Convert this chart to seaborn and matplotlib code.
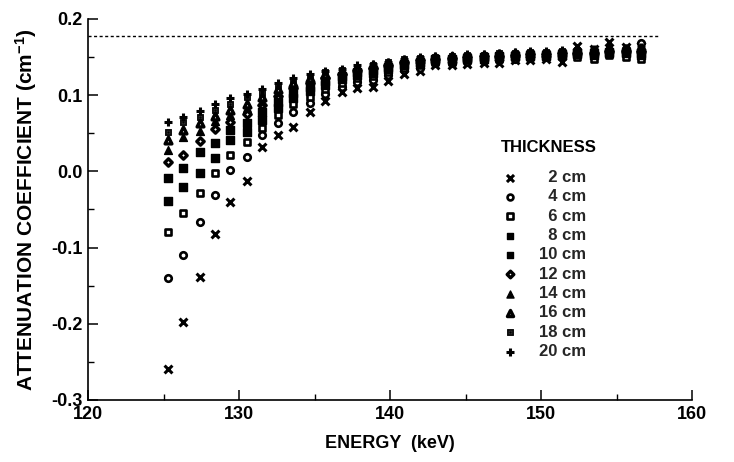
import matplotlib
matplotlib.use("Agg")
import matplotlib.pyplot as plt
import seaborn as sns
import pandas as pd
from matplotlib.path import Path
from matplotlib.markers import MarkerStyle
from matplotlib.ticker import MultipleLocator, FormatStrFormatter

# Photon energy of each measurement (keV)
energy = [125.3, 126.3, 127.4, 128.4, 129.4, 130.5, 131.5, 132.6, 133.6, 134.7,
          135.7, 136.8, 137.8, 138.9, 139.9, 140.9, 142.0, 143.0, 144.1, 145.1,
          146.2, 147.2, 148.3, 149.3, 150.3, 151.4, 152.4, 153.5, 154.5, 155.6,
          156.6]

# Measured attenuation coefficient (cm^-1) for each absorber thickness
mu_2cm = [-0.259, -0.198, -0.138, -0.082, -0.040, -0.012, 0.032, 0.048, 0.058, 0.078,
          0.093, 0.104, 0.110, 0.111, 0.118, 0.128, 0.132, 0.140, 0.139, 0.141,
          0.142, 0.142, 0.146, 0.146, 0.147, 0.143, 0.165, 0.160, 0.170, 0.163, 0.165]
mu_4cm = [-0.140, -0.110, -0.067, -0.031, 0.002, 0.019, 0.048, 0.064, 0.078, 0.090,
          0.102, 0.111, 0.117, 0.120, 0.126, 0.133, 0.136, 0.142, 0.142, 0.144,
          0.145, 0.146, 0.148, 0.149, 0.150, 0.150, 0.152, 0.152, 0.158, 0.160, 0.168]
mu_6cm = [-0.079, -0.055, -0.028, -0.002, 0.022, 0.039, 0.057, 0.074, 0.088, 0.098,
          0.108, 0.116, 0.122, 0.125, 0.130, 0.136, 0.139, 0.144, 0.144, 0.146,
          0.147, 0.148, 0.150, 0.150, 0.151, 0.151, 0.150, 0.148, 0.153, 0.150, 0.147]
mu_8cm = [-0.039, -0.020, -0.002, 0.018, 0.041, 0.052, 0.068, 0.083, 0.096, 0.105,
          0.114, 0.121, 0.126, 0.129, 0.134, 0.139, 0.142, 0.146, 0.146, 0.148,
          0.148, 0.150, 0.151, 0.152, 0.152, 0.153, 0.154, 0.153, 0.156, 0.155, 0.153]
mu_10cm = [-0.009, 0.005, 0.025, 0.037, 0.054, 0.064, 0.078, 0.091, 0.103, 0.111,
           0.119, 0.125, 0.130, 0.133, 0.137, 0.141, 0.144, 0.147, 0.148, 0.149,
           0.150, 0.151, 0.152, 0.153, 0.153, 0.154, 0.155, 0.155, 0.157, 0.157, 0.156]
mu_12cm = [0.012, 0.022, 0.040, 0.056, 0.065, 0.075, 0.087, 0.099, 0.109, 0.116,
           0.123, 0.128, 0.133, 0.136, 0.139, 0.143, 0.146, 0.148, 0.149, 0.150,
           0.151, 0.152, 0.153, 0.154, 0.154, 0.155, 0.156, 0.156, 0.158, 0.158, 0.158]
mu_14cm = [0.028, 0.045, 0.053, 0.066, 0.074, 0.083, 0.093, 0.104, 0.113, 0.119,
           0.126, 0.130, 0.135, 0.138, 0.141, 0.145, 0.147, 0.149, 0.150, 0.151,
           0.152, 0.153, 0.154, 0.155, 0.155, 0.156, 0.157, 0.157, 0.159, 0.159, 0.159]
mu_16cm = [0.041, 0.054, 0.064, 0.073, 0.080, 0.089, 0.098, 0.108, 0.116, 0.122,
           0.128, 0.132, 0.136, 0.139, 0.142, 0.146, 0.148, 0.150, 0.151, 0.152,
           0.153, 0.154, 0.155, 0.156, 0.156, 0.157, 0.158, 0.158, 0.160, 0.160, 0.161]
mu_18cm = [0.052, 0.065, 0.072, 0.080, 0.089, 0.097, 0.103, 0.112, 0.120, 0.125,
           0.130, 0.133, 0.137, 0.140, 0.143, 0.147, 0.149, 0.150, 0.152, 0.153,
           0.153, 0.155, 0.156, 0.157, 0.157, 0.158, 0.159, 0.159, 0.160, 0.161, 0.162]
mu_20cm = [0.065, 0.072, 0.079, 0.088, 0.096, 0.102, 0.108, 0.116, 0.123, 0.128,
           0.132, 0.135, 0.139, 0.141, 0.144, 0.148, 0.150, 0.151, 0.152, 0.154,
           0.154, 0.156, 0.157, 0.158, 0.158, 0.159, 0.160, 0.160, 0.161, 0.162, 0.163]

thickness_labels = ["2 cm", "4 cm", "6 cm", "8 cm", "10 cm",
                    "12 cm", "14 cm", "16 cm", "18 cm", "20 cm"]
series = [mu_2cm, mu_4cm, mu_6cm, mu_8cm, mu_10cm,
          mu_12cm, mu_14cm, mu_16cm, mu_18cm, mu_20cm]

# Narrow-beam reference coefficient and the energy where the reference line stops
reference_mu = 0.178
reference_end = 157.8

df = pd.concat(
    [pd.DataFrame({"energy": energy, "mu": vals, "thickness": lab})
     for lab, vals in zip(thickness_labels, series)],
    ignore_index=True,
)

# Square with a dotted centre
_sq_verts = [(-1, -1), (1, -1), (1, 1), (-1, 1), (0, 0),
             (-0.5, -0.5), (-0.5, 0.5), (0.5, 0.5), (0.5, -0.5), (0, 0),
             (-0.18, -0.18), (0.18, -0.18), (0.18, 0.18), (-0.18, 0.18), (0, 0)]
_sq_codes = [Path.MOVETO, Path.LINETO, Path.LINETO, Path.LINETO, Path.CLOSEPOLY] * 3
dotted_square = MarkerStyle(Path(_sq_verts, _sq_codes))

styles = {
    "2 cm":  dict(marker="x", color="black", linewidth=2.2, s=32),
    "4 cm":  dict(marker="o", color="white", edgecolor="black", linewidth=1.9, s=22),
    "6 cm":  dict(marker="s", color="white", edgecolor="black", linewidth=1.9, s=24),
    "8 cm":  dict(marker="s", color="black", edgecolor="black", linewidth=1, s=28),
    "10 cm": dict(marker="s", color="black", edgecolor="black", linewidth=1, s=28),
    "12 cm": dict(marker="D", color="white", edgecolor="black", linewidth=2.4, s=14),
    "14 cm": dict(marker="^", color="black", edgecolor="black", linewidth=1, s=32),
    "16 cm": dict(marker="^", color="white", edgecolor="black", linewidth=2.4, s=24),
    "18 cm": dict(marker=dotted_square, color="black", edgecolor="black", linewidth=0.6, s=24),
    "20 cm": dict(marker="+", color="black", linewidth=2.2, s=40),
}

sns.set_theme(style="ticks")
plt.rcParams.update({
    "font.family": ["Liberation Sans", "DejaVu Sans"],
    "font.weight": "bold",
    "axes.labelweight": "bold",
    "axes.unicode_minus": False,
    "mathtext.fontset": "custom",
    "mathtext.rm": "Liberation Sans:bold",
    "mathtext.it": "Liberation Sans:bold",
    "mathtext.bf": "Liberation Sans:bold",
    "mathtext.default": "rm",
})

fig = plt.figure(figsize=(7.34, 4.62), dpi=100)
ax = fig.add_axes([88 / 734, 62 / 462, 604 / 734, 381 / 462])

for lab in thickness_labels:
    sub = df[df["thickness"] == lab]
    sns.scatterplot(data=sub, x="energy", y="mu", ax=ax, label=lab,
                    zorder=3, **styles[lab])

ax.hlines(reference_mu, 120, reference_end, colors="black",
          linestyles=(0, (2.2, 1.8)), linewidth=1.0, zorder=2)

ax.set_xlim(120, 160)
ax.set_ylim(-0.3, 0.2)
ax.xaxis.set_major_locator(MultipleLocator(10))
ax.xaxis.set_minor_locator(MultipleLocator(5))
ax.yaxis.set_major_locator(MultipleLocator(0.1))
ax.yaxis.set_minor_locator(MultipleLocator(0.05))
ax.yaxis.set_major_formatter(FormatStrFormatter("%.1f"))
ax.tick_params(which="major", direction="in", length=7, width=1.1,
               labelsize=13, pad=4, color="black", labelcolor="black")
ax.tick_params(which="minor", direction="in", length=4, width=1.0, color="black")
for t in ax.get_xticklabels() + ax.get_yticklabels():
    t.set_fontweight("bold")

sns.despine(ax=ax)
for side in ("left", "bottom"):
    ax.spines[side].set_color("black")
    ax.spines[side].set_linewidth(1.2)

ax.set_xlabel("ENERGY  (keV)", fontsize=13, labelpad=9, color="black")
ax.set_ylabel("ATTENUATION COEFFICIENT (cm$^{-1}$)", fontsize=15,
              labelpad=9, color="black")

# Legend: thickness values right-aligned under the heading
handles, labels = ax.get_legend_handles_labels()
padded = [("  " + l) if len(l) == 4 else l for l in labels]
ax.legend(handles, padded, loc="upper left",
          bbox_to_anchor=(502 / 734, 1 - 170 / 462), bbox_transform=fig.transFigure,
          frameon=False, prop={"weight": "bold", "size": 12},
          handlelength=1.0, handletextpad=1.2, labelspacing=0.26,
          borderpad=0, borderaxespad=0, markerscale=0.9)
fig.text(549 / 734, 1 - 147 / 462, "THICKNESS", ha="center", va="center",
         fontsize=12, fontweight="bold", color="black")

fig.savefig("out.png", dpi=100)
